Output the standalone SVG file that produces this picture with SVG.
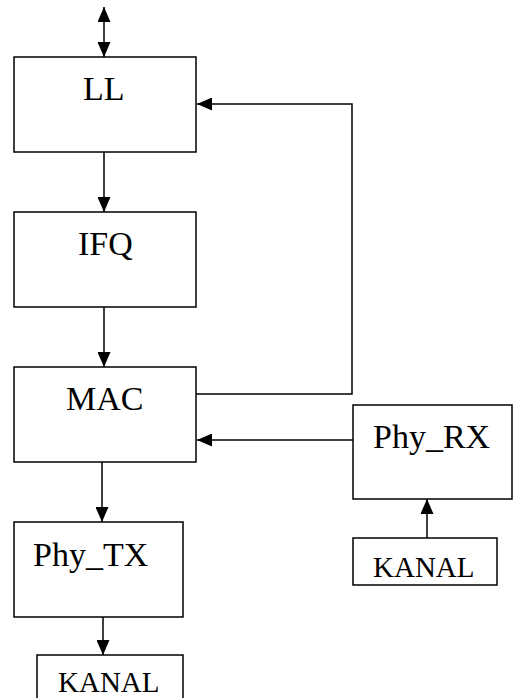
<svg xmlns="http://www.w3.org/2000/svg" width="513" height="698" viewBox="0 0 513 698">
<defs>
<marker id="ah" markerUnits="userSpaceOnUse" markerWidth="15" markerHeight="13" refX="15" refY="6.5" orient="auto-start-reverse">
<path d="M0,0 L15,6.5 L0,13 z" fill="#000"/>
</marker>
<style>
.box{fill:#fff;stroke:#000;stroke-width:1.5}
.lbl{font-size:34px;fill:#000}
.sm{font-size:29px}
.con{fill:none;stroke:#000;stroke-width:1.5}
</style>
</defs>
<rect width="513" height="698" fill="#fff"/>
<g id="connectors">
<line class="con" x1="104" y1="57" x2="104" y2="7" marker-start="url(#ah)" marker-end="url(#ah)"/>
<line class="con" x1="104" y1="152" x2="104" y2="212" marker-end="url(#ah)"/>
<line class="con" x1="104" y1="307" x2="104" y2="367" marker-end="url(#ah)"/>
<line class="con" x1="102" y1="462" x2="102" y2="522" marker-end="url(#ah)"/>
<line class="con" x1="103" y1="617" x2="103" y2="655" marker-end="url(#ah)"/>
<polyline class="con" points="196,394 352,394 352,104 197,104" marker-end="url(#ah)"/>
<line class="con" x1="353" y1="440" x2="197" y2="440" marker-end="url(#ah)"/>
<line class="con" x1="427" y1="538" x2="427" y2="499" marker-end="url(#ah)"/>
</g>
<g font-family="'Liberation Serif', 'DejaVu Serif', serif">
<g id="LL"><rect class="box" x="14" y="57" width="182" height="95"/><text class="lbl" x="83" y="100">LL</text></g>
<g id="IFQ"><rect class="box" x="14" y="212" width="182" height="95"/><text class="lbl" x="78" y="255">IFQ</text></g>
<g id="MAC"><rect class="box" x="14" y="367" width="182" height="95"/><text class="lbl" x="66" y="410">MAC</text></g>
<g id="Phy_TX"><rect class="box" x="14" y="522" width="169" height="95"/><text class="lbl" x="33" y="566">Phy_TX</text></g>
<g id="Phy_RX"><rect class="box" x="353" y="405" width="159" height="94"/><text class="lbl" x="373" y="448">Phy_RX</text></g>
<g id="KANAL_RX"><rect class="box" x="353" y="538" width="144" height="47"/><text class="lbl sm" x="373" y="577">KANAL</text></g>
<g id="KANAL_TX"><rect class="box" x="37" y="655" width="146" height="47"/><text class="lbl sm" x="58" y="692">KANAL</text></g>
</g>
</svg>
